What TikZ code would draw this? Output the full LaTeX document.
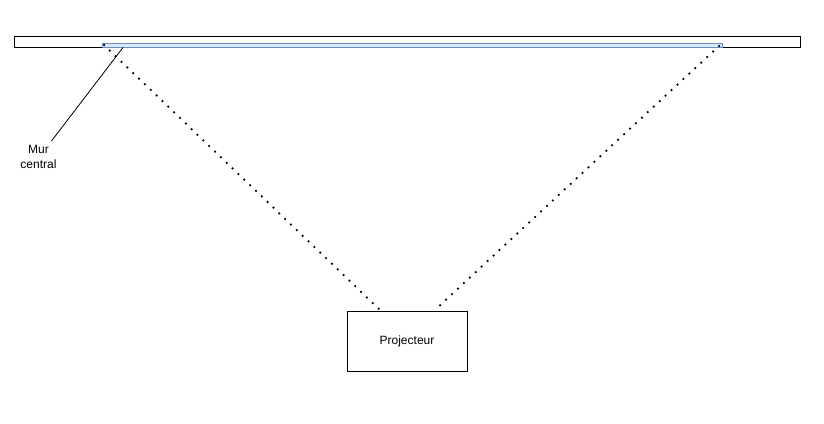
\documentclass[tikz,border=0pt]{standalone}
\usepackage{fontspec}
\setmainfont{Liberation Sans}
\begin{document}
\begin{tikzpicture}[x=1pt,y=-1pt,
  wallbox/.style={draw=black,line width=1pt,fill=white},
  screenbox/.style={draw={rgb,255:red,108;green,142;blue,191},line width=1pt,fill={rgb,255:red,218;green,232;blue,252}},
  beam/.style={line width=2.5pt,line cap=round,dash pattern=on 0pt off 8.1pt},
  projbox/.style={draw=black,line width=1pt,fill=white,minimum width=120pt,minimum height=60pt,inner sep=0pt,font=\fontsize{12}{14}\selectfont},
  lbl/.style={align=center,font=\fontsize{12}{15}\selectfont,inner sep=0pt}]
\useasboundingbox (0,0) rectangle (824,423);
\draw[wallbox] (14,36) rectangle (800,47);
\node[screenbox,minimum width=620pt,minimum height=4.5pt,inner sep=0pt] (screen) at (412,45.5) {};
\node[projbox] (proj) at (407,341) {Projecteur};
\coordinate (sl) at (104,45);
\coordinate (sr) at (719,46);
\coordinate (pl) at (380,310);
\coordinate (pr) at (436,309);
\draw[beam] (sl) -- (pl);
\draw[beam] (sr) -- (pr);
\node[lbl] (mur) at (38.5,157) {Mur\\central};
\coordinate (lead) at (123,47.5);
\draw[line width=0.8pt] (lead) -- (51.5,141);
\end{tikzpicture}
\end{document}
